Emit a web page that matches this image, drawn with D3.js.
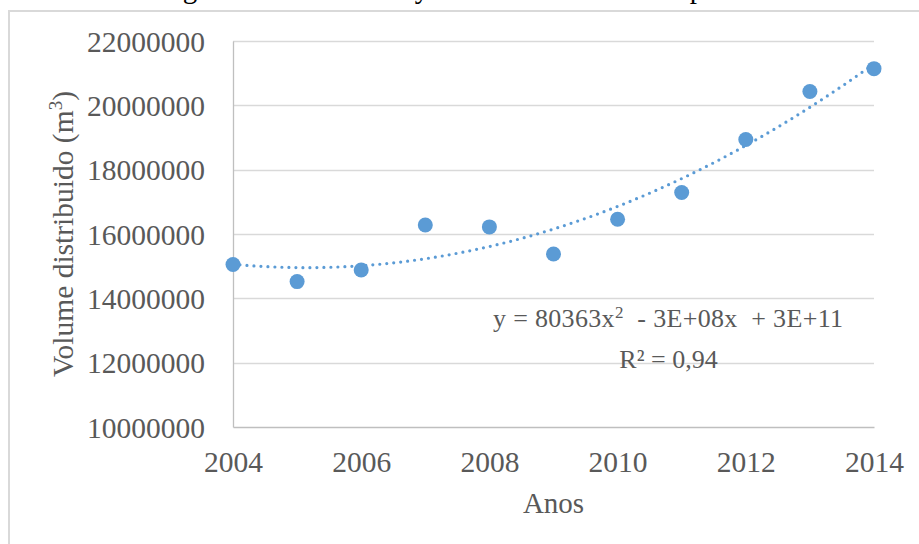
<!DOCTYPE html>
<html>
<head>
<meta charset="utf-8">
<script src="https://cdn.jsdelivr.net/npm/d3@7"></script>
<style>
  html, body { margin: 0; padding: 0; background: #fff; }
  svg { display: block; }
  text { font-family: "Liberation Serif", "Times New Roman", serif; fill: #595959; }
</style>
</head>
<body>
<svg id="chart" width="919" height="544"></svg>
<script>
// ---- data ----
const years = [2004, 2005, 2006, 2007, 2008, 2009, 2010, 2011, 2012, 2013, 2014];
const volumes = [15050000, 14520000, 14880000, 16280000, 16220000, 15380000, 16460000, 17290000, 18940000, 20430000, 21140000];
const yTicks = [10000000, 12000000, 14000000, 16000000, 18000000, 20000000, 22000000];
const xTicks = [2004, 2006, 2008, 2010, 2012, 2014];
const yTitle = "Volume distribuido (m";
const xTitle = "Anos";
const eqLine1 = ["y = 80363x", "2", "  - 3E+08x  + 3E+11"];
const eqLine2 = "R² = 0,94";
const titleGlyphs = [["g", 190], ["y", 422], ["p", 697]];

const svg = d3.select("#chart");
const W = 919, H = 544;

const x = d3.scaleLinear().domain([2004, 2014]).range([233, 874]);
const y = d3.scaleLinear().domain([10000000, 22000000]).range([427, 41]);

// outer frame (partially visible)
svg.append("path")
  .attr("d", `M9,${H} L9,11 L${W},11`)
  .attr("fill", "none").attr("stroke", "#d9d9d9").attr("stroke-width", 2);

// title line above the frame, clipped by the picture edge as in the reference
svg.append("g").selectAll("text").data(titleGlyphs).join("text")
  .attr("x", d => d[1]).attr("y", -2.5)
  .attr("text-anchor", "middle")
  .style("font-size", "29px").style("fill", "#000")
  .text(d => d[0]);

// gridlines
svg.append("g").selectAll("line").data(yTicks.filter(t => t > 10000000)).join("line")
  .attr("x1", x(2004)).attr("x2", x(2014))
  .attr("y1", d => Math.round(y(d)) + 0.5).attr("y2", d => Math.round(y(d)) + 0.5)
  .attr("stroke", "#d9d9d9").attr("stroke-width", 1.3);

// axes
const yAxis = svg.append("g").attr("transform", `translate(${x(2004)},0)`)
  .call(d3.axisLeft(y).tickValues(yTicks).tickFormat(d3.format("d")).tickSize(0).tickPadding(28));
const xAxis = svg.append("g").attr("transform", `translate(0,${y(10000000)})`)
  .call(d3.axisBottom(x).tickValues(xTicks).tickFormat(d3.format("d")).tickSize(0).tickPadding(24));
[yAxis, xAxis].forEach(g => {
  g.select(".domain").attr("stroke", "#bfbfbf").attr("stroke-width", 1.3);
  g.selectAll("text").style("font-size", "29.5px").style("fill", "#595959")
    .style("font-family", "'Liberation Serif', 'Times New Roman', serif");
});
yAxis.selectAll("text").attr("dy", "0.34em");
xAxis.selectAll("text").attr("dy", "0.71em");

// axis titles
const yt = svg.append("text")
  .attr("transform", "translate(73,234) rotate(-90)")
  .attr("text-anchor", "middle")
  .style("font-size", "29.5px");
yt.append("tspan").text(yTitle);
yt.append("tspan").attr("dy", -11).style("font-size", "19px").text("3");
yt.append("tspan").attr("dy", 11).text(")");

svg.append("text")
  .attr("x", (x(2004) + x(2014)) / 2).attr("y", 513)
  .attr("text-anchor", "middle")
  .style("font-size", "29px")
  .text(xTitle);

// quadratic least-squares trendline computed from the data
function quadFit(xs, ys) {
  const x0 = 2004;
  let S = Array(5).fill(0), T = Array(3).fill(0);
  xs.forEach((xv, i) => {
    const u = xv - x0;
    for (let k = 0; k < 5; k++) S[k] += Math.pow(u, k);
    for (let k = 0; k < 3; k++) T[k] += Math.pow(u, k) * ys[i];
  });
  const A = [[S[0], S[1], S[2], T[0]], [S[1], S[2], S[3], T[1]], [S[2], S[3], S[4], T[2]]];
  for (let i = 0; i < 3; i++) {
    for (let j = i + 1; j < 3; j++) {
      const f = A[j][i] / A[i][i];
      for (let k = i; k < 4; k++) A[j][k] -= f * A[i][k];
    }
  }
  const c = [0, 0, 0];
  for (let i = 2; i >= 0; i--) {
    let s = A[i][3];
    for (let k = i + 1; k < 3; k++) s -= A[i][k] * c[k];
    c[i] = s / A[i][i];
  }
  return xv => { const u = xv - x0; return c[0] + c[1] * u + c[2] * u * u; };
}
const fit = quadFit(years, volumes);
const trendX = d3.range(2004, 2014.0001, 0.1);
svg.append("path")
  .datum(trendX)
  .attr("d", d3.line().x(d => x(d)).y(d => y(fit(d))))
  .attr("fill", "none")
  .attr("stroke", "#5b9bd5")
  .attr("stroke-width", 3.2)
  .attr("stroke-linecap", "round")
  .attr("stroke-dasharray", "0 7");

// points
svg.append("g").selectAll("circle").data(years).join("circle")
  .attr("cx", (d) => x(d))
  .attr("cy", (d, i) => y(volumes[i]))
  .attr("r", 7.5)
  .attr("fill", "#5b9bd5");

// equation label
const eq = svg.append("text")
  .attr("x", 668).attr("y", 327)
  .attr("text-anchor", "middle")
  .style("font-size", "26px")
  .style("white-space", "pre")
  .attr("textLength", 350).attr("lengthAdjust", "spacing");
eq.append("tspan").text(eqLine1[0]);
eq.append("tspan").attr("dy", -9).style("font-size", "17px").text(eqLine1[1]);
eq.append("tspan").attr("dy", 9).text(eqLine1[2]);

svg.append("text")
  .attr("x", 668.5).attr("y", 368)
  .attr("text-anchor", "middle")
  .style("font-size", "26px")
  .text(eqLine2);
</script>
</body>
</html>
